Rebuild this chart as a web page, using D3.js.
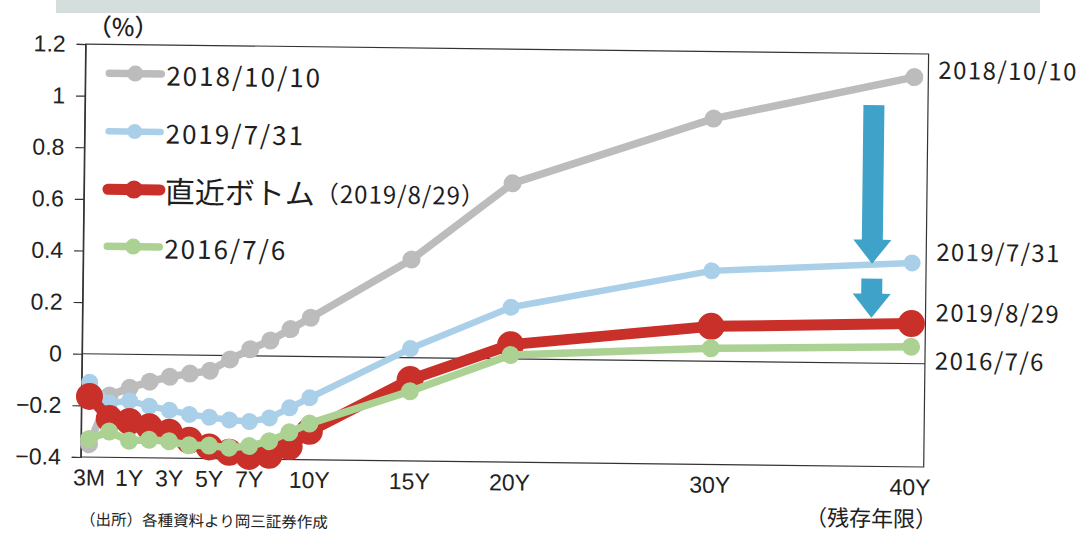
<!DOCTYPE html>
<html>
<head>
<meta charset="utf-8">
<script src="https://cdn.jsdelivr.net/npm/d3@7"></script>
<style>
  body { margin: 0; background: #fff; }
  svg { display: block; }
</style>
</head>
<body>
<script>
var W = 1087, H = 535;

// maturities (years) and their labels
var categories = ["3M","6M","1Y","2Y","3Y","4Y","5Y","6Y","7Y","8Y","9Y","10Y","15Y","20Y","30Y","40Y"];
var maturities = [0.25,0.5,1,2,3,4,5,6,7,8,9,10,15,20,30,40];
var tickLabels = ["3M","1Y","3Y","5Y","7Y","10Y","15Y","20Y","30Y","40Y"];
var yTicks = [-0.4,-0.2,0,0.2,0.4,0.6,0.8,1,1.2];

// yields (%)
var y20181010 = [-0.35,-0.16,-0.13,-0.105,-0.085,-0.072,-0.06,-0.015,0.025,0.06,0.105,0.15,0.38,0.68,0.94,1.11];
var y20190731 = [-0.11,-0.19,-0.18,-0.2,-0.215,-0.23,-0.24,-0.25,-0.255,-0.24,-0.2,-0.16,0.035,0.2,0.35,0.39];
var y20190829 = [-0.165,-0.25,-0.26,-0.28,-0.3,-0.33,-0.355,-0.375,-0.39,-0.385,-0.35,-0.29,-0.085,0.055,0.135,0.155];
var y20160706 = [-0.33,-0.3,-0.335,-0.33,-0.335,-0.35,-0.35,-0.357,-0.35,-0.33,-0.295,-0.26,-0.13,0.015,0.05,0.065];

var seriesNames = ["2018/10/10","2019/7/31","2019/8/29","2016/7/6"];
var seriesValues = [y20181010, y20190731, y20190829, y20160706];

// arrows: maturity, from, to (%)
var arrows = [{m: 38, from: 1.0, to: 0.385}, {m: 38, from: 0.327, to: 0.176}];

var styles = [
  {color: "#bcbcbc", width: 7.5, r: 9, lr: 8},
  {color: "#aacfe8", width: 6.5, r: 8.5, lr: 7.5},
  {color: "#c9302a", width: 11, r: 13.5, lr: 9},
  {color: "#acd293", width: 7.5, r: 9, lr: 8}
];

var pLeft = 82, pRight = 925, pTop = 44, pBottom = 457;
var unit = (pRight - 2 - pLeft) / 42;

var svg = d3.select("body").append("svg")
  .attr("width", W).attr("height", H);

// scanned page edge at top
svg.append("rect").attr("x", 56).attr("y", 0).attr("width", 984).attr("height", 13)
  .attr("fill", "#d4dfdd");

var g = svg.append("g").attr("transform", "rotate(0.68," + pLeft + ",353)");

var x = d3.scaleLinear()
  .domain([0.25, 0.5, 1, 40])
  .range([80 + unit / 2, 80 + unit * 1.5, 80 + unit * 2.5, 80 + unit * 41.5]);

var y = d3.scaleLinear().domain([-0.4, 1.2]).range([pBottom, pTop]);

// frame
g.append("rect").attr("x", pLeft).attr("y", pTop)
  .attr("width", pRight - pLeft).attr("height", pBottom - pTop)
  .attr("fill", "none").attr("stroke", "#333").attr("stroke-width", 1.2);

// y axis
var yAxis = g.append("g").attr("transform", "translate(" + pLeft + ",0)")
  .call(d3.axisLeft(y).tickValues(yTicks).tickSize(9).tickPadding(11)
    .tickFormat(function(d) { return String(+d.toFixed(1)).replace("-", "\u2212"); }));
yAxis.select(".domain").attr("stroke", "#333").attr("stroke-width", 1.2);
yAxis.selectAll(".tick line").attr("stroke", "#333").attr("stroke-width", 1.2);
yAxis.selectAll("text").attr("font-family", "'Liberation Sans', Arial, sans-serif")
  .attr("font-size", 23).attr("fill", "#222");

// zero line
g.append("line").attr("x1", pLeft).attr("x2", pRight)
  .attr("y1", y(0)).attr("y2", y(0))
  .attr("stroke", "#333").attr("stroke-width", 1.2);

// x axis labels
var xAxis = g.append("g").attr("transform", "translate(0," + pBottom + ")")
  .call(d3.axisBottom(x).tickValues(tickLabels.map(function(t) { return maturities[categories.indexOf(t)]; }))
    .tickSize(0).tickPadding(12)
    .tickFormat(function(d) { return categories[maturities.indexOf(d)]; }));
xAxis.select(".domain").remove();
xAxis.selectAll("text").attr("font-family", "'Liberation Sans', Arial, sans-serif")
  .attr("font-size", 23).attr("fill", "#222");

// series
var line = d3.line()
  .x(function(d, i) { return x(maturities[i]); })
  .y(function(d) { return y(d); });

seriesValues.forEach(function(vals, k) {
  var s = styles[k];
  var sg = g.append("g");
  sg.append("path").datum(vals).attr("d", line)
    .attr("fill", "none").attr("stroke", s.color)
    .attr("stroke-width", s.width).attr("stroke-linejoin", "round");
  sg.selectAll("circle").data(vals).enter().append("circle")
    .attr("cx", function(d, i) { return x(maturities[i]); })
    .attr("cy", function(d) { return y(d); })
    .attr("r", s.r).attr("fill", s.color);
});

// arrows
arrows.forEach(function(a) {
  var cx = x(a.m), y0 = y(a.from), y1 = y(a.to);
  var hw = 19, sw = 10.5, hh = 24;
  var pts = [[cx - sw, y0], [cx + sw, y0], [cx + sw, y1 - hh], [cx + hw, y1 - hh],
             [cx, y1], [cx - hw, y1 - hh], [cx - sw, y1 - hh]];
  g.append("path").attr("d", "M" + pts.join("L") + "Z").attr("fill", "#3fa2c8");
});

// right-side labels
var jp = "'Noto Sans CJK JP', 'Noto Sans', sans-serif";
seriesNames.forEach(function(name, k) {
  var last = seriesValues[k][seriesValues[k].length - 1];
  var dy = [-9, -13, -13, 12][k];
  g.append("text").attr("x", 935).attr("y", y(last) + dy)
    .attr("dominant-baseline", "central")
    .attr("font-family", jp).attr("font-size", 24).attr("letter-spacing", 1.4)
    .attr("fill", "#1e1e1e").text(name);
});

// legend
var legendLabels = ["2018/10/10", "2019/7/31", null, "2016/7/6"];
var legendY = [73, 131, 189, 246];
seriesNames.forEach(function(name, k) {
  var s = styles[k];
  var ly = legendY[k];
  g.append("line").attr("x1", 106).attr("x2", 158).attr("y1", ly).attr("y2", ly)
    .attr("stroke", s.color).attr("stroke-width", s.width).attr("stroke-linecap", "round");
  g.append("circle").attr("cx", 132).attr("cy", ly).attr("r", s.lr).attr("fill", s.color);
  var t = g.append("text").attr("x", 163).attr("y", ly)
    .attr("dominant-baseline", "central")
    .attr("font-family", jp).attr("fill", "#1e1e1e");
  if (k === 2) {
    t.append("tspan").attr("font-size", 30).text("直近ボトム");
    t.append("tspan").attr("font-size", 24).attr("letter-spacing", 1).text("（" + name + "）");
  } else {
    t.attr("font-size", 26).attr("letter-spacing", 2).text(legendLabels[k]);
  }
});

// unit label
g.append("text").attr("x", 84).attr("y", 25).attr("dominant-baseline", "central")
  .attr("font-family", jp).attr("font-size", 24).attr("font-weight", 500)
  .attr("fill", "#1e1e1e").text("（%）");

// footnotes
g.append("text").attr("x", 82).attr("y", 518).attr("dominant-baseline", "central")
  .attr("font-family", jp).attr("font-size", 15.5).attr("fill", "#222")
  .text("（出所）各種資料より岡三証券作成");
g.append("text").attr("x", 807).attr("y", 507).attr("dominant-baseline", "central")
  .attr("font-family", jp).attr("font-size", 22).attr("fill", "#1e1e1e")
  .text("（残存年限）");
</script>
</body>
</html>
